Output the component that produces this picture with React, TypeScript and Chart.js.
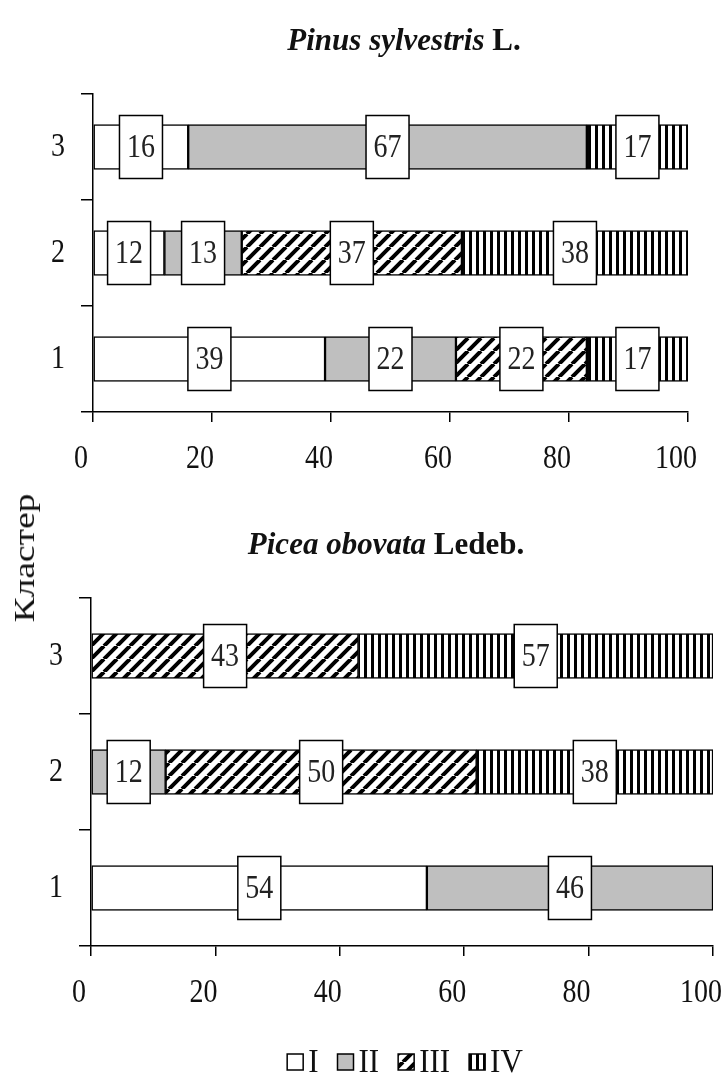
import React, { useEffect, useRef } from 'react';
import { Chart, registerables } from 'chart.js';

Chart.register(...registerables);

// ---- data ----
const CLUSTERS = ['1', '2', '3'];
const SERIES = ['I', 'II', 'III', 'IV'];
const X_TICK_MIN = 0;
const X_TICK_MAX = 100;
const X_TICK_STEP = 20;

const PINUS_TITLE = 'Pinus sylvestris';
const PINUS_AUTHOR = ' L.';
const PINUS_I = [39, 12, 16];
const PINUS_II = [22, 13, 67];
const PINUS_III = [22, 37, 0];
const PINUS_IV = [17, 38, 17];

const PICEA_TITLE = 'Picea obovata';
const PICEA_AUTHOR = ' Ledeb.';
const PICEA_I = [54, 0, 0];
const PICEA_II = [46, 12, 0];
const PICEA_III = [0, 50, 43];
const PICEA_IV = [0, 38, 57];

const AXIS_TITLE = 'Кластер';

const SERIF = "'Liberation Serif', 'Times New Roman', serif";
const INK = '#111';
const STRETCH = 1.2;

function makePatterns() {
  const mk = (w: number, h: number, draw: (g: CanvasRenderingContext2D, w: number, h: number) => void) => {
    const c = document.createElement('canvas');
    c.width = w;
    c.height = h;
    const g = c.getContext('2d') as CanvasRenderingContext2D;
    draw(g, w, h);
    return g.createPattern(c, 'repeat') as CanvasPattern;
  };
  const diag = mk(13, 13, (g, w, h) => {
    g.fillStyle = '#fff';
    g.fillRect(0, 0, w, h);
    g.strokeStyle = '#000';
    g.lineWidth = 4;
    g.beginPath();
    for (const o of [-w, 0, w]) {
      g.moveTo(o, h);
      g.lineTo(o + w, 0);
    }
    g.stroke();
  });
  const vert = mk(7, 4, (g, w, h) => {
    g.fillStyle = '#fff';
    g.fillRect(0, 0, w, h);
    g.fillStyle = '#000';
    g.fillRect(0, 0, 3, h);
  });
  return ['#ffffff', '#bfbfbf', diag, vert];
}

function stretchedText(
  ctx: CanvasRenderingContext2D,
  text: string,
  x: number,
  y: number,
  font: string,
  align: CanvasTextAlign,
  sy: number
) {
  ctx.save();
  ctx.translate(x, y);
  ctx.scale(1, sy);
  ctx.font = font;
  ctx.textAlign = align;
  ctx.textBaseline = 'middle';
  ctx.fillText(text, 0, 0);
  ctx.restore();
}

const titlePlugin = {
  id: 'speciesTitle',
  afterDraw(chart: any, _args: any, opts: any) {
    const ctx = chart.ctx as CanvasRenderingContext2D;
    ctx.save();
    const parts = opts.parts as { text: string; font: string }[];
    let total = 0;
    const widths = parts.map((p) => {
      ctx.font = p.font;
      const w = ctx.measureText(p.text).width;
      total += w;
      return w;
    });
    let x = opts.cx - total / 2;
    ctx.fillStyle = INK;
    parts.forEach((p, i) => {
      stretchedText(ctx, p.text, x, opts.cy, p.font, 'left', 1.05);
      x += widths[i];
    });
    ctx.restore();
  },
};

const axisLabelPlugin = {
  id: 'axisLabels',
  afterDraw(chart: any) {
    const ctx = chart.ctx as CanvasRenderingContext2D;
    ctx.save();
    ctx.fillStyle = INK;
    const font = `28px ${SERIF}`;
    const xs = chart.scales.x;
    xs.ticks.forEach((t: any, i: number) => {
      const x = xs.getPixelForTick(i) - 12;
      const y = xs.top + 10 + 37;
      stretchedText(ctx, String(t.label ?? t.value), x, y, font, 'center', STRETCH);
    });
    const ys = chart.scales.y;
    ys.ticks.forEach((t: any, i: number) => {
      const y = ys.getPixelForTick(i);
      const x = ys.right - 12 - 16;
      stretchedText(ctx, String(ys.getLabelForValue(t.value)), x, y, font, 'right', STRETCH);
    });
    ctx.restore();
  },
};

const boxLabelPlugin = {
  id: 'boxLabels',
  afterDatasetsDraw(chart: any) {
    const ctx = chart.ctx as CanvasRenderingContext2D;
    ctx.save();
    chart.data.datasets.forEach((ds: any, i: number) => {
      const meta = chart.getDatasetMeta(i);
      meta.data.forEach((el: any, j: number) => {
        const v = ds.data[j];
        if (!v) return;
        const p = el.getProps(['x', 'y', 'base'], true);
        const cx = (p.x + p.base) / 2;
        const bw = 43;
        const bh = 63;
        ctx.fillStyle = '#fff';
        ctx.fillRect(cx - bw / 2, p.y - bh / 2, bw, bh);
        ctx.strokeStyle = '#000';
        ctx.lineWidth = 1.5;
        ctx.strokeRect(cx - bw / 2, p.y - bh / 2, bw, bh);
        ctx.fillStyle = '#222';
        stretchedText(ctx, String(v), cx, p.y + 1, `28px ${SERIF}`, 'center', STRETCH);
      });
    });
    ctx.restore();
  },
};

const legendPlugin = {
  id: 'patLegend',
  afterDraw(chart: any, _args: any, opts: any) {
    if (!opts || !opts.show) return;
    const ctx = chart.ctx as CanvasRenderingContext2D;
    ctx.save();
    const font = `31px ${SERIF}`;
    ctx.font = font;
    const box = 16;
    const gapText = 5;
    const gapItem = 19;
    const items = chart.data.datasets.map((d: any) => ({ label: d.label, fill: d.backgroundColor, w: ctx.measureText(d.label).width }));
    let total = 0;
    items.forEach((it: any, i: number) => {
      total += box + gapText + it.w + (i ? gapItem : 0);
    });
    let x = opts.cx - total / 2;
    const y = opts.cy;
    items.forEach((it: any) => {
      ctx.fillStyle = it.fill;
      ctx.fillRect(x, y - box / 2, box, box);
      ctx.strokeStyle = '#000';
      ctx.lineWidth = 1.5;
      ctx.strokeRect(x, y - box / 2, box, box);
      ctx.fillStyle = INK;
      stretchedText(ctx, it.label, x + box + gapText, y + 1, font, 'left', 1.1);
      x += box + gapText + it.w + gapItem;
    });
    ctx.restore();
  },
};

function buildConfig(
  series: number[][],
  fills: any[],
  o: {
    title: string;
    author: string;
    titleCx: number;
    titleCy: number;
    padTop: number;
    padRight: number;
    padBottom: number;
    yWidth: number;
    legend?: { cx: number; cy: number };
  }
): any {
  return {
    type: 'bar',
    data: {
      labels: CLUSTERS,
      datasets: series.map((d, i) => ({
        label: SERIES[i],
        data: d,
        backgroundColor: fills[i],
        borderColor: '#000',
        borderWidth: 1.5,
        borderSkipped: false,
        barThickness: 45,
      })),
    },
    options: {
      indexAxis: 'y',
      responsive: false,
      animation: false,
      events: [],
      layout: { padding: { top: o.padTop, left: 0, right: o.padRight, bottom: o.padBottom } },
      plugins: {
        legend: { display: false },
        tooltip: { enabled: false },
        title: { display: false },
        speciesTitle: {
          cx: o.titleCx,
          cy: o.titleCy,
          parts: [
            { text: o.title, font: `italic bold 31px ${SERIF}` },
            { text: o.author, font: `bold 31px ${SERIF}` },
          ],
        },
        patLegend: o.legend ? { show: true, cx: o.legend.cx, cy: o.legend.cy } : { show: false },
      },
      scales: {
        x: {
          type: 'linear',
          stacked: true,
          min: X_TICK_MIN,
          max: X_TICK_MAX,
          ticks: { stepSize: X_TICK_STEP, display: false },
          grid: { drawOnChartArea: false, drawTicks: true, tickLength: 10, color: '#000', lineWidth: 1.5 },
          border: { display: true, color: '#000', width: 1.5 },
          afterFit: (s: any) => {
            s.height = 78;
            s.paddingLeft = 0;
            s.paddingRight = 0;
          },
        },
        y: {
          type: 'category',
          stacked: true,
          reverse: true,
          offset: true,
          ticks: { display: false },
          grid: { offset: true, drawOnChartArea: false, drawTicks: true, tickLength: 12, color: '#000', lineWidth: 1.5 },
          border: { display: true, color: '#000', width: 1.5 },
          afterFit: (s: any) => {
            s.width = o.yWidth;
            s.paddingTop = 0;
            s.paddingBottom = 0;
          },
        },
      },
    },
    plugins: [titlePlugin, axisLabelPlugin, boxLabelPlugin, legendPlugin],
  };
}

export default function App() {
  const topRef = useRef<HTMLCanvasElement | null>(null);
  const botRef = useRef<HTMLCanvasElement | null>(null);

  useEffect(() => {
    const fills = makePatterns();
    const c1 = new Chart(
      topRef.current as HTMLCanvasElement,
      buildConfig([PINUS_I, PINUS_II, PINUS_III, PINUS_IV], fills, {
        title: PINUS_TITLE,
        author: PINUS_AUTHOR,
        titleCx: 404,
        titleCy: 42,
        padTop: 94,
        padRight: 37,
        padBottom: 0,
        yWidth: 93,
      })
    );
    const c2 = new Chart(
      botRef.current as HTMLCanvasElement,
      buildConfig([PICEA_I, PICEA_II, PICEA_III, PICEA_IV], fills, {
        title: PICEA_TITLE,
        author: PICEA_AUTHOR,
        titleCx: 386,
        titleCy: 56,
        padTop: 108,
        padRight: 12,
        padBottom: 51,
        yWidth: 91,
        legend: { cx: 405, cy: 572 },
      })
    );
    return () => {
      c1.destroy();
      c2.destroy();
    };
  }, []);

  return (
    <div
      style={{
        position: 'absolute',
        left: 0,
        top: 0,
        width: 725,
        height: 1075,
        overflow: 'hidden',
        background: '#fff',
      }}
    >
      <canvas ref={topRef} width={725} height={490} style={{ position: 'absolute', left: 0, top: 0, display: 'block' }} />
      <canvas ref={botRef} width={725} height={585} style={{ position: 'absolute', left: 0, top: 490, display: 'block' }} />
      <div
        style={{
          position: 'absolute',
          left: 24,
          top: 558,
          transform: 'translate(-50%, -50%) rotate(-90deg) scale(1.25, 1)',
          fontFamily: SERIF,
          fontSize: 30,
          color: INK,
          whiteSpace: 'nowrap',
          lineHeight: 1,
        }}
      >
        {AXIS_TITLE}
      </div>
    </div>
  );
}
